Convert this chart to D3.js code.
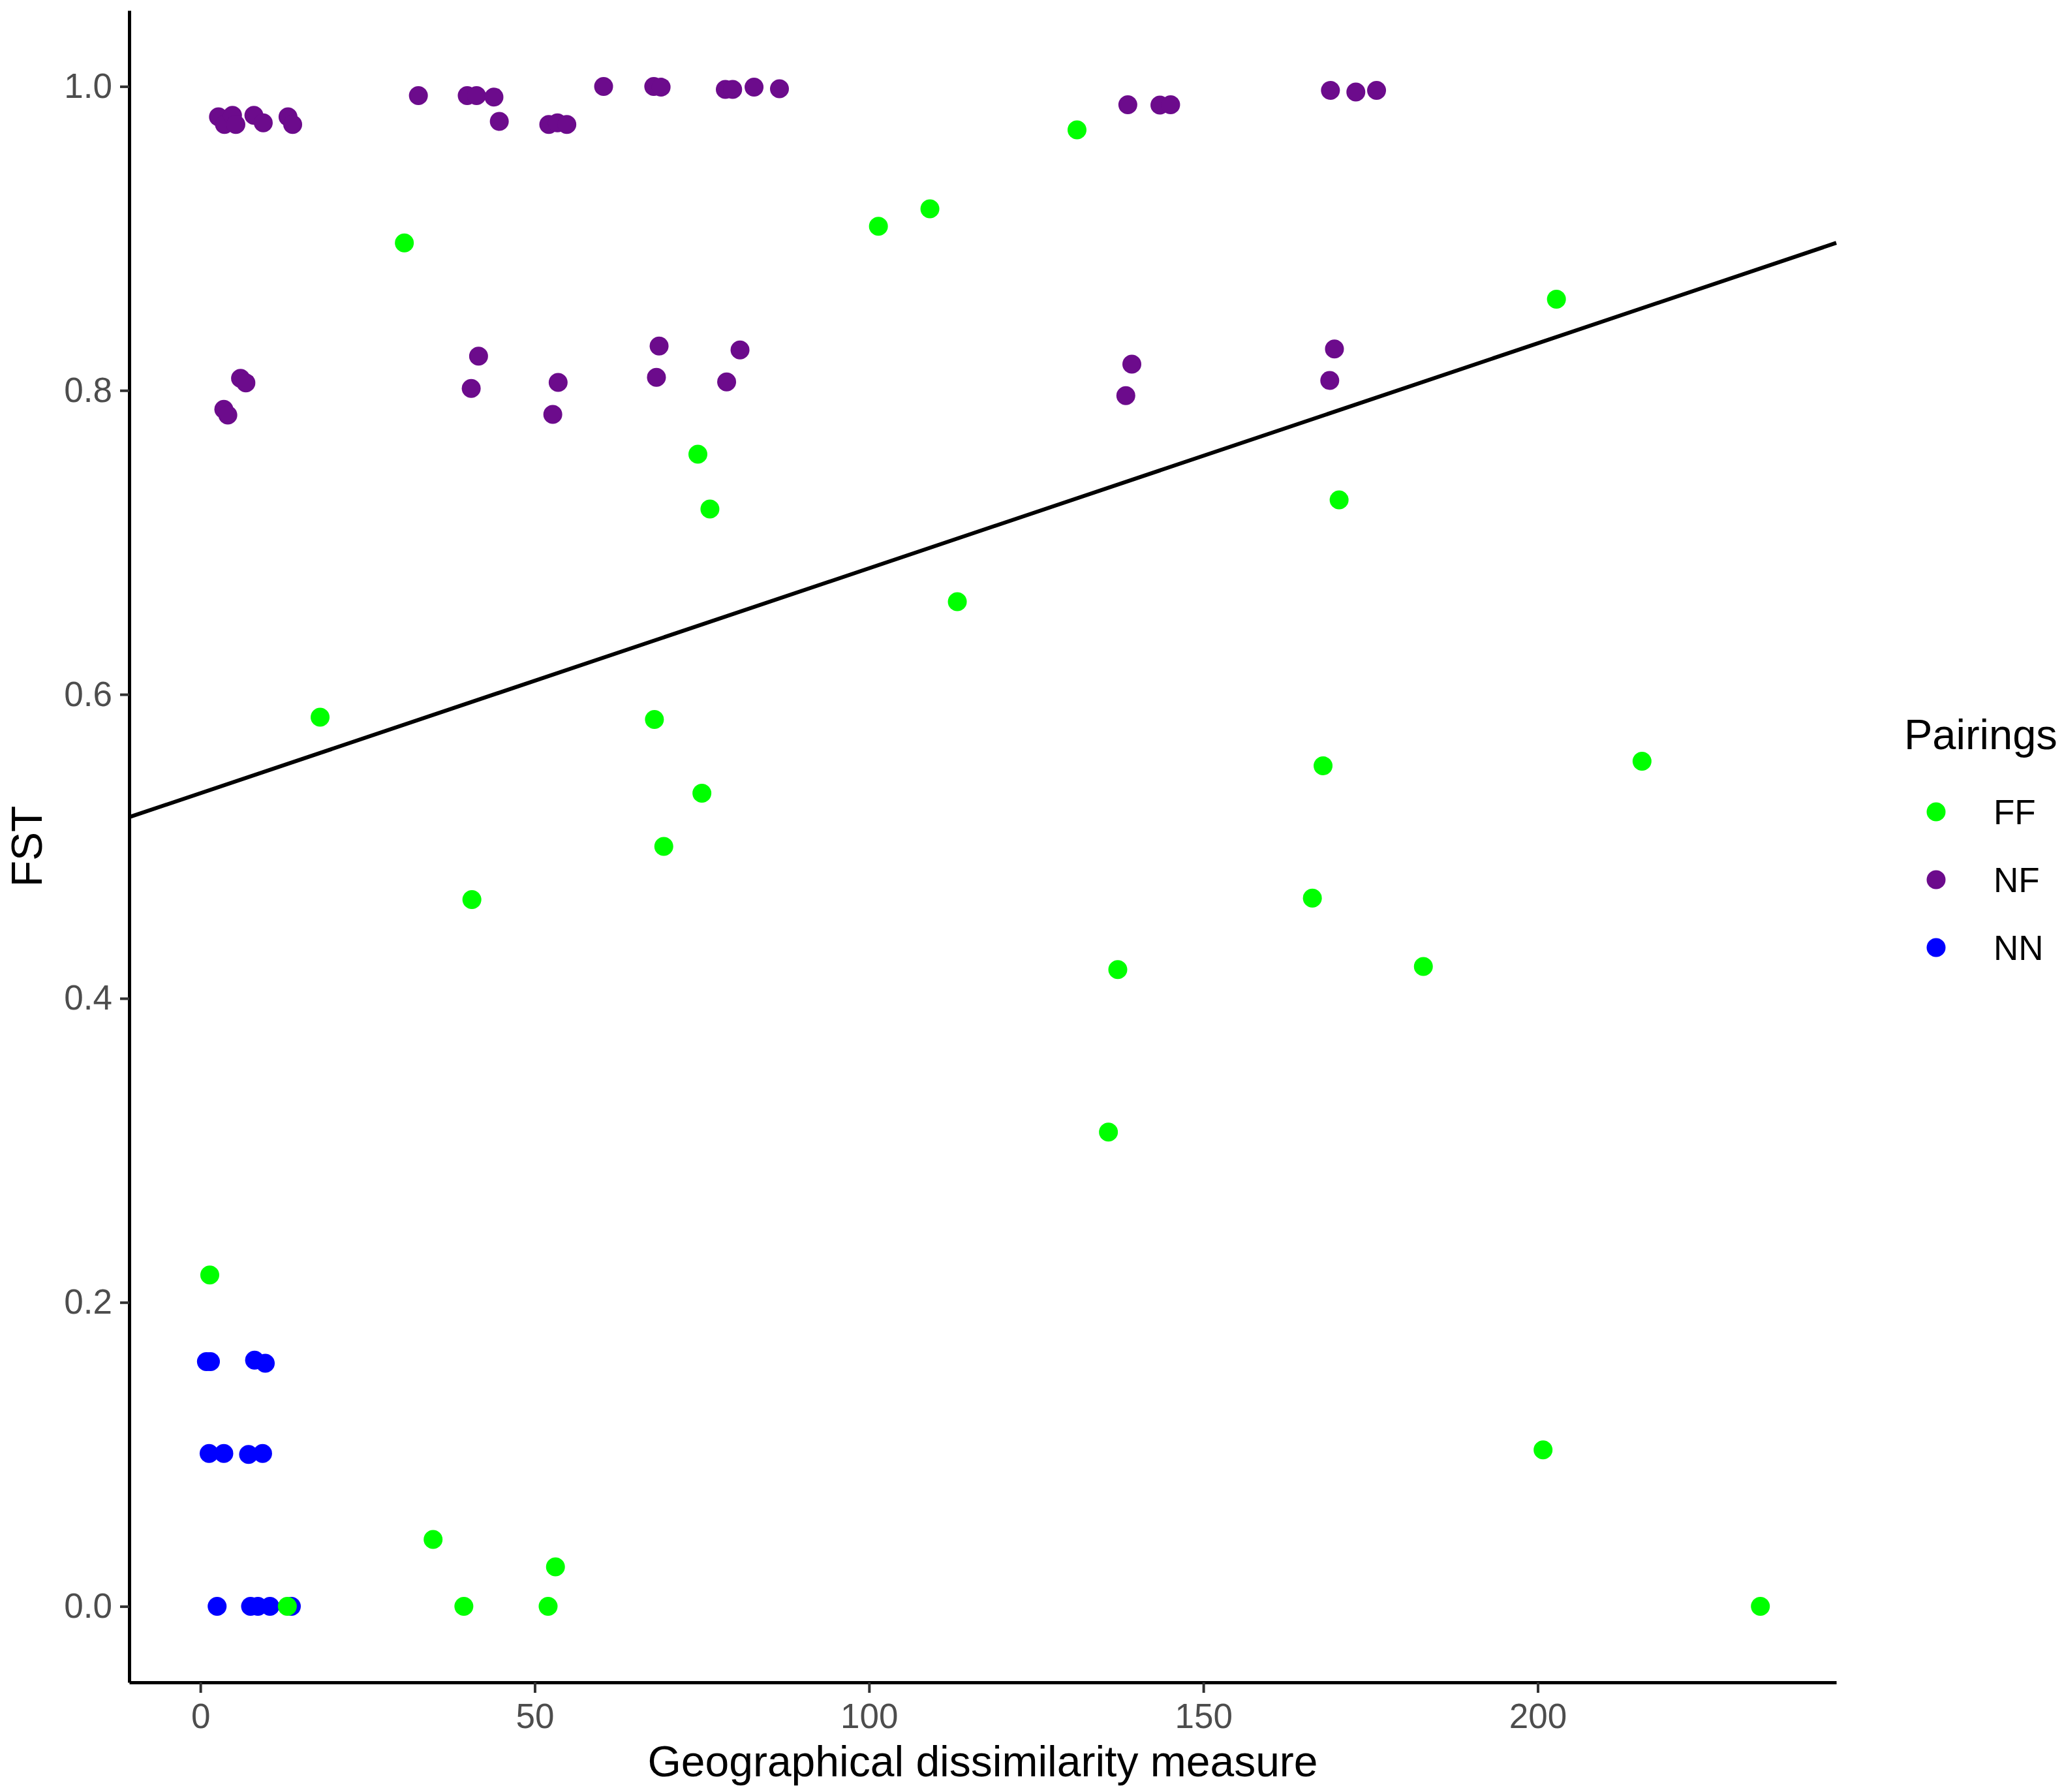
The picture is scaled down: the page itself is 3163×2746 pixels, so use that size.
<!DOCTYPE html>
<html>
<head>
<meta charset="utf-8">
<script src="https://cdn.jsdelivr.net/npm/d3@7"></script>
<style>
  html, body { margin: 0; padding: 0; background: #fff; }
  svg text { font-family: "Liberation Sans", Arial, sans-serif; }
</style>
</head>
<body>
<div id="chart"></div>
<script>
// pairings and their colours
var groups = ['FF', 'NF', 'NN'];
var groupColors = ['#00ff00', '#6c0b8c', '#0000ff'];

// [geographical dissimilarity, FST]
var ffPoints = [
  [30.5, 0.897], [101.4, 0.908], [109.1, 0.9195], [131.1, 0.9714], [202.8, 0.860],
  [74.4, 0.758], [76.2, 0.722], [170.3, 0.728], [113.2, 0.661], [17.9, 0.585],
  [67.9, 0.5835], [167.9, 0.553], [215.6, 0.556], [75.0, 0.535], [69.3, 0.500],
  [40.6, 0.465], [166.3, 0.466], [137.2, 0.419], [182.9, 0.421], [135.8, 0.312],
  [1.4, 0.218], [200.8, 0.103], [34.8, 0.044], [53.1, 0.026], [39.4, 0],
  [52.0, 0], [13.0, 0], [233.3, 0]
];
var nfPoints = [
  [2.7, 0.980], [3.6, 0.975], [4.8, 0.981], [5.3, 0.975], [8.0, 0.981], [9.4, 0.976],
  [13.1, 0.980], [13.8, 0.975], [32.6, 0.994], [39.9, 0.994], [41.3, 0.994], [43.9, 0.993],
  [44.7, 0.977], [52.1, 0.975], [53.4, 0.976], [54.8, 0.975], [60.3, 1.0], [67.8, 1.0],
  [68.9, 0.9995], [78.5, 0.998], [79.6, 0.998], [82.8, 0.9996], [86.6, 0.9985],
  [138.7, 0.988], [143.5, 0.9877], [145.1, 0.988], [169.0, 0.9974], [172.8, 0.9963],
  [175.9, 0.9974],
  [6.0, 0.808], [6.8, 0.805], [3.5, 0.7876], [4.1, 0.7838], [41.6, 0.8225], [40.5, 0.8013],
  [53.5, 0.8053], [52.7, 0.7842], [68.6, 0.8292], [68.2, 0.8086], [80.7, 0.8266],
  [78.7, 0.8056], [138.4, 0.7966], [139.3, 0.8173], [169.6, 0.8273], [168.9, 0.8066]
];
var nnPoints = [
  [0.9, 0.161], [1.5, 0.161], [8.1, 0.162], [9.7, 0.160],
  [1.3, 0.1006], [3.5, 0.1006], [7.2, 0.100], [9.3, 0.1006],
  [2.5, 0], [7.5, 0], [8.6, 0], [10.4, 0], [13.6, 0]
];

// fitted line FST = a + b * distance
var fitIntercept = 0.535;
var fitSlope = 0.00148;

var xTicks = [0, 50, 100, 150, 200];
var yTicks = [0, 0.2, 0.4, 0.6, 0.8, 1.0];

var width = 3163, height = 2746;
var margin = { top: 16, right: 349, bottom: 168, left: 198 };
var pointR = 14.5;

var svg = d3.select('#chart').append('svg')
  .attr('width', width)
  .attr('height', height);

var x = d3.scaleLinear().domain([-10.65, 244.65]).range([margin.left, width - margin.right]);
var y = d3.scaleLinear().domain([-0.05, 1.05]).range([height - margin.bottom, margin.top]);

//points, NN underneath so the green one at ~13 sits on top
var layers = [
  { pts: nnPoints, color: groupColors[2] },
  { pts: nfPoints, color: groupColors[1] },
  { pts: ffPoints, color: groupColors[0] }
];
layers.forEach(function(l) {
  svg.append('g')
    .selectAll('circle')
    .data(l.pts)
    .enter().append('circle')
    .attr('cx', function(d) { return x(d[0]); })
    .attr('cy', function(d) { return y(d[1]); })
    .attr('r', pointR)
    .attr('fill', l.color);
});

// regression line over the full panel
var xd = x.domain();
svg.append('line')
  .attr('x1', x(xd[0])).attr('y1', y(fitIntercept + fitSlope * xd[0]))
  .attr('x2', x(xd[1])).attr('y2', y(fitIntercept + fitSlope * xd[1]))
  .attr('stroke', '#000')
  .attr('stroke-width', 6);

// axes
var xAxis = svg.append('g')
  .attr('transform', 'translate(0,' + (height - margin.bottom) + ')')
  .call(d3.axisBottom(x).tickValues(xTicks).tickSize(16).tickPadding(16).tickSizeOuter(0));
var yAxis = svg.append('g')
  .attr('transform', 'translate(' + margin.left + ',0)')
  .call(d3.axisLeft(y).tickValues(yTicks).tickFormat(d3.format('.1f')).tickSize(14).tickPadding(12).tickSizeOuter(0));

[xAxis, yAxis].forEach(function(a) {
  a.select('.domain').attr('stroke', '#000').attr('stroke-width', 5);
  a.selectAll('.tick line').attr('stroke', '#333').attr('stroke-width', 4);
  a.selectAll('.tick text')
    .attr('fill', '#4d4d4d')
    .style('font-size', '53px')
    .style('font-family', '"Liberation Sans", Arial, sans-serif');
});

// axis titles
svg.append('text')
  .attr('x', (margin.left + width - margin.right) / 2)
  .attr('y', 2722)
  .attr('text-anchor', 'middle')
  .style('font-size', '66px')
  .text('Geographical dissimilarity measure');

svg.append('text')
  .attr('transform', 'translate(64,' + ((margin.top + height - margin.bottom) / 2) + ') rotate(-90)')
  .attr('text-anchor', 'middle')
  .style('font-size', '66px')
  .text('FST');

// legend
var legend = svg.append('g').attr('transform', 'translate(2918,0)');
legend.append('text')
  .attr('x', 0).attr('y', 1148)
  .style('font-size', '65px')
  .text('Pairings');

var keys = legend.selectAll('.key')
  .data(groups)
  .enter().append('g')
  .attr('class', 'key')
  .attr('transform', function(d, i) { return 'translate(0,' + (1244 + i * 104) + ')'; });
keys.append('circle')
  .attr('cx', 49).attr('cy', 0).attr('r', pointR)
  .attr('fill', function(d, i) { return groupColors[i]; });
keys.append('text')
  .attr('x', 137).attr('y', 0)
  .attr('dy', '0.36em')
  .style('font-size', '53px')
  .text(function(d) { return d; });
</script>
</body>
</html>
